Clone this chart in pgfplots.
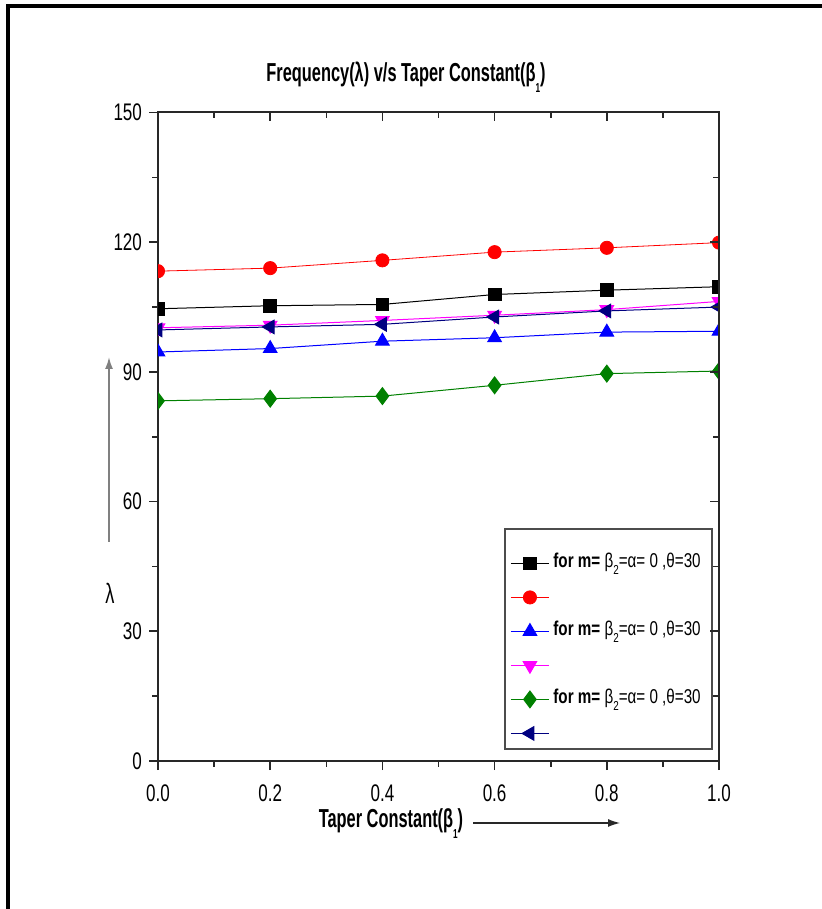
\documentclass[border=0pt]{standalone}
\usepackage{pgfplots}
\pgfplotsset{compat=1.18}
\usepackage{fontspec}
\setmainfont{Liberation Sans}
\newfontfamily\titlefont[FakeStretch=0.63]{Liberation Sans}
\newfontfamily\tickfont[FakeStretch=0.71]{Liberation Sans}
\newfontfamily\legfont[FakeStretch=0.76]{Liberation Sans}
\newfontfamily\lamfont[FakeStretch=0.65]{Liberation Sans}
\usetikzlibrary{arrows.meta}

\definecolor{cblack}{RGB}{0,0,0}
\definecolor{cred}{RGB}{255,0,0}
\definecolor{cblue}{RGB}{0,0,255}
\definecolor{cmag}{RGB}{255,0,255}
\definecolor{cgreen}{RGB}{0,128,0}
\definecolor{cnavy}{RGB}{0,0,128}
\definecolor{axisgray}{RGB}{40,40,40}

% pixel position of the 822x909 reference -> pt
\newcommand\px[2]{({#1*0.5pt},{(909-#2)*0.5pt})}
\newcommand\legtext{{\bfseries for m=} β\raisebox{-0.7ex}{\fontsize{6.5}{7}\selectfont 2}=α= 0 ,θ=30}

\pgfplotsset{
  frame/.style={
    at={(79pt,74pt)}, anchor=south west, scale only axis,
    width=280.5pt, height=324.25pt,
    xmin=0, xmax=1, ymin=0, ymax=150,
    xtick={0,0.2,0.4,0.6,0.8,1.0}, ytick={0,30,60,90,120,150},
    minor x tick num=1, minor y tick num=1,
    major tick length=4.5pt, minor tick length=3pt,
    every tick/.style={axisgray, line width=0.8pt},
    axis line style={axisgray, line width=1pt},
  },
}

\begin{document}
\begin{tikzpicture}
\useasboundingbox (0,0) rectangle (411pt,454.5pt);
% outer frame (top and left)
\draw[line width=2pt] (3.75pt,0) -- (3.75pt,451.25pt) -- (411pt,451.25pt);

\begin{axis}[frame,
  tick pos=left, tick align=outside,
  clip marker paths=true,
  ticklabel style={font=\tickfont\fontsize{12}{14}\selectfont},
  /pgf/number format/assume math mode=true,
  xticklabel style={/pgf/number format/fixed, /pgf/number format/fixed zerofill,
    /pgf/number format/precision=1, inner ysep=1pt, yshift=-6pt},
  legend cell align=left,
  legend style={draw=none, fill=none, at={(0.6275,0.3207)}, anchor=north west,
    inner sep=0pt, row sep=7pt, column sep=0pt,
    font=\legfont\fontsize{10}{11}\selectfont,
    nodes={text height=7pt, text depth=3pt, inner ysep=0pt, inner xsep=2pt}},
  legend image code/.code={\draw[mark repeat=2,mark phase=2,#1]
    plot coordinates {(0pt,0pt) (9.5pt,0pt) (19pt,0pt)};},
]
\addplot[cblack, line width=0.5pt, mark=square*, mark size=3.2pt, mark options={solid}]
  coordinates {(0,104.6)(0.2,105.3)(0.4,105.6)(0.6,107.9)(0.8,108.9)(1,109.7)};
\addlegendentry{\legtext}
\addplot[cred, line width=0.4pt, mark=*, mark size=3.3pt]
  coordinates {(0,113.3)(0.2,114.0)(0.4,115.8)(0.6,117.7)(0.8,118.7)(1,119.9)};
\addlegendentry{}
\addplot[cblue, line width=0.5pt, mark=triangle*, mark size=3.9pt]
  coordinates {(0,94.6)(0.2,95.4)(0.4,97.1)(0.6,97.9)(0.8,99.2)(1,99.4)};
\addlegendentry{\legtext}
\addplot[cmag, line width=0.5pt, mark=triangle*, mark size=3.9pt, mark options={rotate=180}]
  coordinates {(0,100.2)(0.2,100.8)(0.4,101.9)(0.6,103.1)(0.8,104.4)(1,106.3)};
\addlegendentry{}
\addplot[cgreen, line width=0.5pt, mark=diamond*, mark size=4.2pt]
  coordinates {(0,83.3)(0.2,83.8)(0.4,84.4)(0.6,86.9)(0.8,89.6)(1,90.2)};
\addlegendentry{\legtext}
\addplot[cnavy, line width=0.5pt, mark=triangle*, mark size=3.9pt, mark options={rotate=90}]
  coordinates {(0,99.7)(0.2,100.4)(0.4,101.0)(0.6,102.7)(0.8,104.1)(1,105.0)};
\addlegendentry{}
\draw[gray!60!black, line width=0.6pt] (rel axis cs:0.6185,0.0185) rectangle (rel axis cs:0.9875,0.3578);
\end{axis}

% inward ticks on the top and right edges
\begin{axis}[frame,
  axis x line*=top, axis y line*=right, tick align=inside,
  xticklabels={}, yticklabels={},
]
\addplot[draw=none] coordinates {(0,0)};
\end{axis}

% title and axis labels
\node[font=\titlefont\bfseries\fontsize{13}{15}\selectfont] at \px{406}{77}
  {Frequency(λ) v/s Taper Constant(β\raisebox{-0.8ex}{\fontsize{6.5}{7}\selectfont 1})};
\node[font=\titlefont\bfseries\fontsize{13}{15}\selectfont, inner sep=1pt] at \px{391}{824}
  {Taper Constant(β\raisebox{-0.8ex}{\fontsize{6.5}{7}\selectfont 1})};
\draw[axisgray, line width=0.6pt, -{Latex[length=6pt,width=4pt]}] \px{473}{823} -- \px{620}{823};
\draw[gray, line width=0.9pt, -{Latex[length=6pt,width=4pt]}] \px{109}{542} -- \px{109}{357};
\node[font=\lamfont\fontsize{14}{16}\selectfont] at \px{110}{593} {λ};
\end{tikzpicture}
\end{document}
